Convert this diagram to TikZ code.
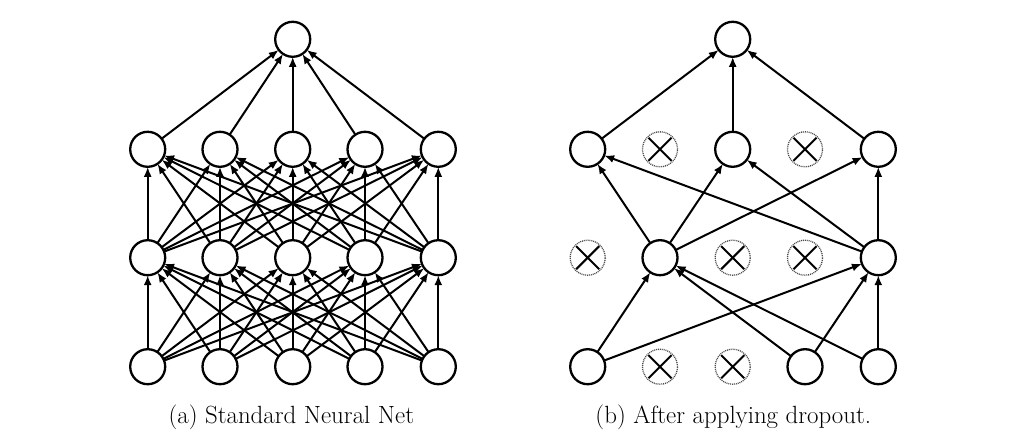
\documentclass[tikz,border=0pt]{standalone}
\usetikzlibrary{arrows.meta}
\begin{document}
\begin{tikzpicture}[x=1pt,y=-1pt,
  neuron/.style={circle,draw,line width=2.3pt,minimum size=35pt,inner sep=0pt,outer sep=0pt,fill=white},
  dropped/.style={circle,draw=black!70,dash pattern=on 1pt off 0.9pt,line width=1.3pt,minimum size=35pt,inner sep=0pt,outer sep=0pt},
  conn/.style={line width=2pt,-{Latex[length=10pt,width=8pt]}},
  crossline/.style={line width=2pt,shorten <=1.2pt,shorten >=1.2pt},
  caption/.style={anchor=base,inner sep=0pt,font=\fontsize{24.88}{30}\selectfont}]
\useasboundingbox (0,0) rectangle (1024,446);

% ---------- (a) standard network ----------
\foreach \i/\x in {1/147.7,2/220,3/292.7,4/365,5/438.3}{
  \node[neuron] (aI\i) at (\x,366.7) {};
  \node[neuron] (aH\i) at (\x,257.7) {};
  \node[neuron] (aG\i) at (\x,149.3) {};
}
\node[neuron] (aT) at (292.7,39.3) {};
\foreach \i in {1,...,5}{
  \foreach \j in {1,...,5}{
    \draw[conn] (aI\i) -- (aH\j);
    \draw[conn] (aH\i) -- (aG\j);
  }
  \draw[conn] (aG\i) -- (aT);
}

% ---------- (b) after dropout ----------
\node[neuron]  (bI1) at (587.7,366.7) {};
\node[dropped] (bI2) at (660,366.7) {};
\node[dropped] (bI3) at (732.7,366.7) {};
\node[neuron]  (bI4) at (805,366.7) {};
\node[neuron]  (bI5) at (878.3,366.7) {};

\node[dropped] (bH1) at (587.7,257.7) {};
\node[neuron]  (bH2) at (660,257.7) {};
\node[dropped] (bH3) at (732.7,257.7) {};
\node[dropped] (bH4) at (805,257.7) {};
\node[neuron]  (bH5) at (878.3,257.7) {};

\node[neuron]  (bG1) at (587.7,149.3) {};
\node[dropped] (bG2) at (660,149.3) {};
\node[neuron]  (bG3) at (732.7,149.3) {};
\node[dropped] (bG4) at (805,149.3) {};
\node[neuron]  (bG5) at (878.3,149.3) {};

\node[neuron] (bT) at (732.7,39.3) {};

\foreach \n in {bI2,bI3,bH1,bH3,bH4,bG2,bG4}{
  \draw[crossline] (\n.45) -- (\n.225);
  \draw[crossline] (\n.135) -- (\n.315);
}

\foreach \i in {1,4,5}{
  \foreach \j in {2,5}{
    \draw[conn] (bI\i) -- (bH\j);
  }
}
\foreach \i in {2,5}{
  \foreach \j in {1,3,5}{
    \draw[conn] (bH\i) -- (bG\j);
  }
}
\foreach \i in {1,3,5}{
  \draw[conn] (bG\i) -- (bT);
}

% ---------- captions ----------
\node[caption] (capA) at (291.3,423) {(a) Standard Neural Net};
\node[caption] (capB) at (733.3,423) {(b) After applying dropout.};
\end{tikzpicture}
\end{document}
